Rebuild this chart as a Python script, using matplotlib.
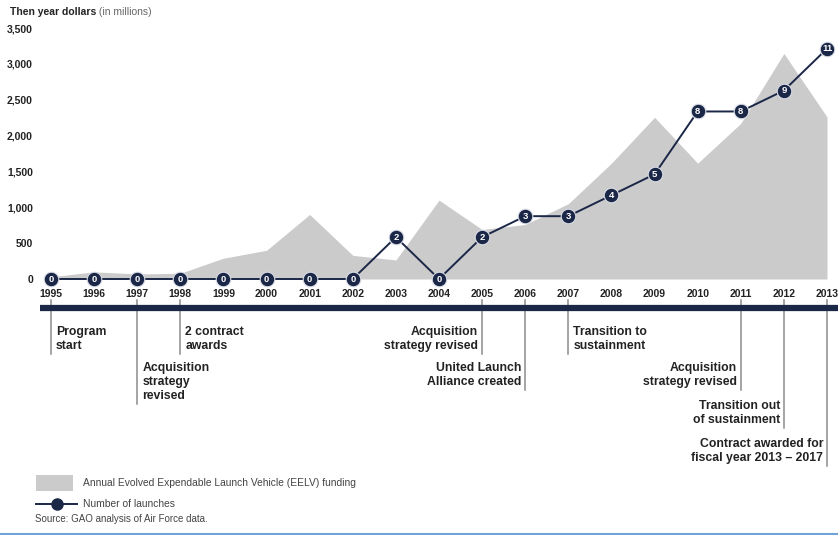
import matplotlib.pyplot as plt
import matplotlib.transforms as mtransforms
from matplotlib.patches import Rectangle

plt.rcParams['font.family'] = ['Liberation Sans', 'DejaVu Sans']

years = list(range(1995, 2014))
funding = [30, 100, 70, 80, 290, 400, 900, 330, 265, 1100, 690, 760, 1050,
           1615, 2255, 1615, 2170, 3145, 2260]
launches = [0, 0, 0, 0, 0, 0, 0, 0, 2, 0, 2, 3, 3, 4, 5, 8, 8, 9, 11]
yticks = [0, 500, 1000, 1500, 2000, 2500, 3000, 3500]

event_years = [1995, 1997, 1998, 2005, 2006, 2007, 2011, 2012, 2013]
event_labels = ["Program\nstart",
                "Acquisition\nstrategy\nrevised",
                "2 contract\nawards",
                "Acquisition\nstrategy revised",
                "United Launch\nAlliance created",
                "Transition to\nsustainment",
                "Acquisition\nstrategy revised",
                "Transition out\nof sustainment",
                "Contract awarded for\nfiscal year 2013 \u2013 2017"]
event_side = ["r", "r", "r", "l", "l", "r", "l", "l", "l"]
event_row = [0, 1, 0, 0, 1, 0, 1, 2, 3]

navy = "#1b2747"
gray_area = "#cbcbcb"
W, H = 838, 535

fig = plt.figure(figsize=(W / 100, H / 100), dpi=100)

# pixel overlay for timeline / legend
ov = fig.add_axes([0, 0, 1, 1])
ov.set_xlim(0, W)
ov.set_ylim(H, 0)
ov.axis("off")

ax = fig.add_axes([51 / W, (H - 279) / H, 776 / W, 251 / H])
ax.patch.set_visible(False)
ax.fill_between(years, funding, 0, color=gray_area, lw=0, zorder=1)
ax.set_xlim(1995, 2013)
ax.set_ylim(0, 3500)
ax.set_yticks(yticks)
ax.set_yticklabels([f"{v:,}" for v in yticks], fontweight="bold", fontsize=7.5, color="#222222")
ax.set_xticks(years)
ax.set_xticklabels([str(y) for y in years], fontweight="bold", fontsize=7.5, color="#222222")
ax.tick_params(axis="y", length=0, pad=13)
ax.tick_params(axis="x", length=0, pad=7.5)
for s in ax.spines.values():
    s.set_visible(False)

ax2 = ax.twinx()
ax2.set_ylim(0, 3500 / 292)
ax2.axis("off")
ax2.plot(years, launches, color=navy, lw=1.4, marker="o", markersize=10.5,
         markerfacecolor=navy, markeredgecolor="#d8dce6", markeredgewidth=0.8,
         clip_on=False, zorder=3)
for x, n in zip(years, launches):
    ax2.text(x, n, str(n), color="white", fontsize=6.8, fontweight="bold",
             ha="center", va="center", zorder=4)

# title
t1 = fig.text(10 / W, 1 - 12 / H, "Then year dollars", fontsize=7.5, fontweight="bold",
              color="#222222", va="center")
ov.annotate(" (in millions)", xy=(1, 0.5), xycoords=t1, va="center", fontsize=7.5,
            color="#666666")

# timeline bar
ov.plot([40, W], [307.5, 307.5], color=navy, lw=4.5, solid_capstyle="butt", zorder=2)

trans = mtransforms.blended_transform_factory(ax.transData, ov.transData)
row_top = [326, 362, 400, 438]
for yr, lab, side, row in zip(event_years, event_labels, event_side, event_row):
    top = row_top[row]
    nlines = lab.count("\n") + 1
    end = top + nlines * 13.5 + 1
    ov.plot([yr, yr], [300, end], transform=trans, color="#8c8c8c", lw=1.1, zorder=1)
    if side == "r":
        off, ha = 5, "left"
    else:
        off, ha = -4, "right"
    ov.annotate(lab, xy=(yr, top), xycoords=trans, xytext=(off * 0.72, 0),
                textcoords="offset points", ha=ha, va="top", fontsize=8.8,
                fontweight="bold", color="#222222", linespacing=1.2,
                multialignment=ha)

# legend
ov.add_patch(Rectangle((36, 475), 37, 16, color=gray_area, lw=0))
ov.text(83, 483, "Annual Evolved Expendable Launch Vehicle (EELV) funding",
        fontsize=7.4, color="#444444", va="center")
ov.plot([36, 77], [504, 504], color=navy, lw=1.4)
ov.plot([57], [504], marker="o", markersize=8, color=navy)
ov.text(83, 504, "Number of launches", fontsize=7.4, color="#444444", va="center")
ov.text(35, 518.5, "Source: GAO analysis of Air Force data.", fontsize=7.0,
        color="#444444", va="center")

# bottom rule
ov.plot([0, W], [533.5, 533.5], color="#6fa3d8", lw=1.5)

fig.savefig("out.png", dpi=100)
